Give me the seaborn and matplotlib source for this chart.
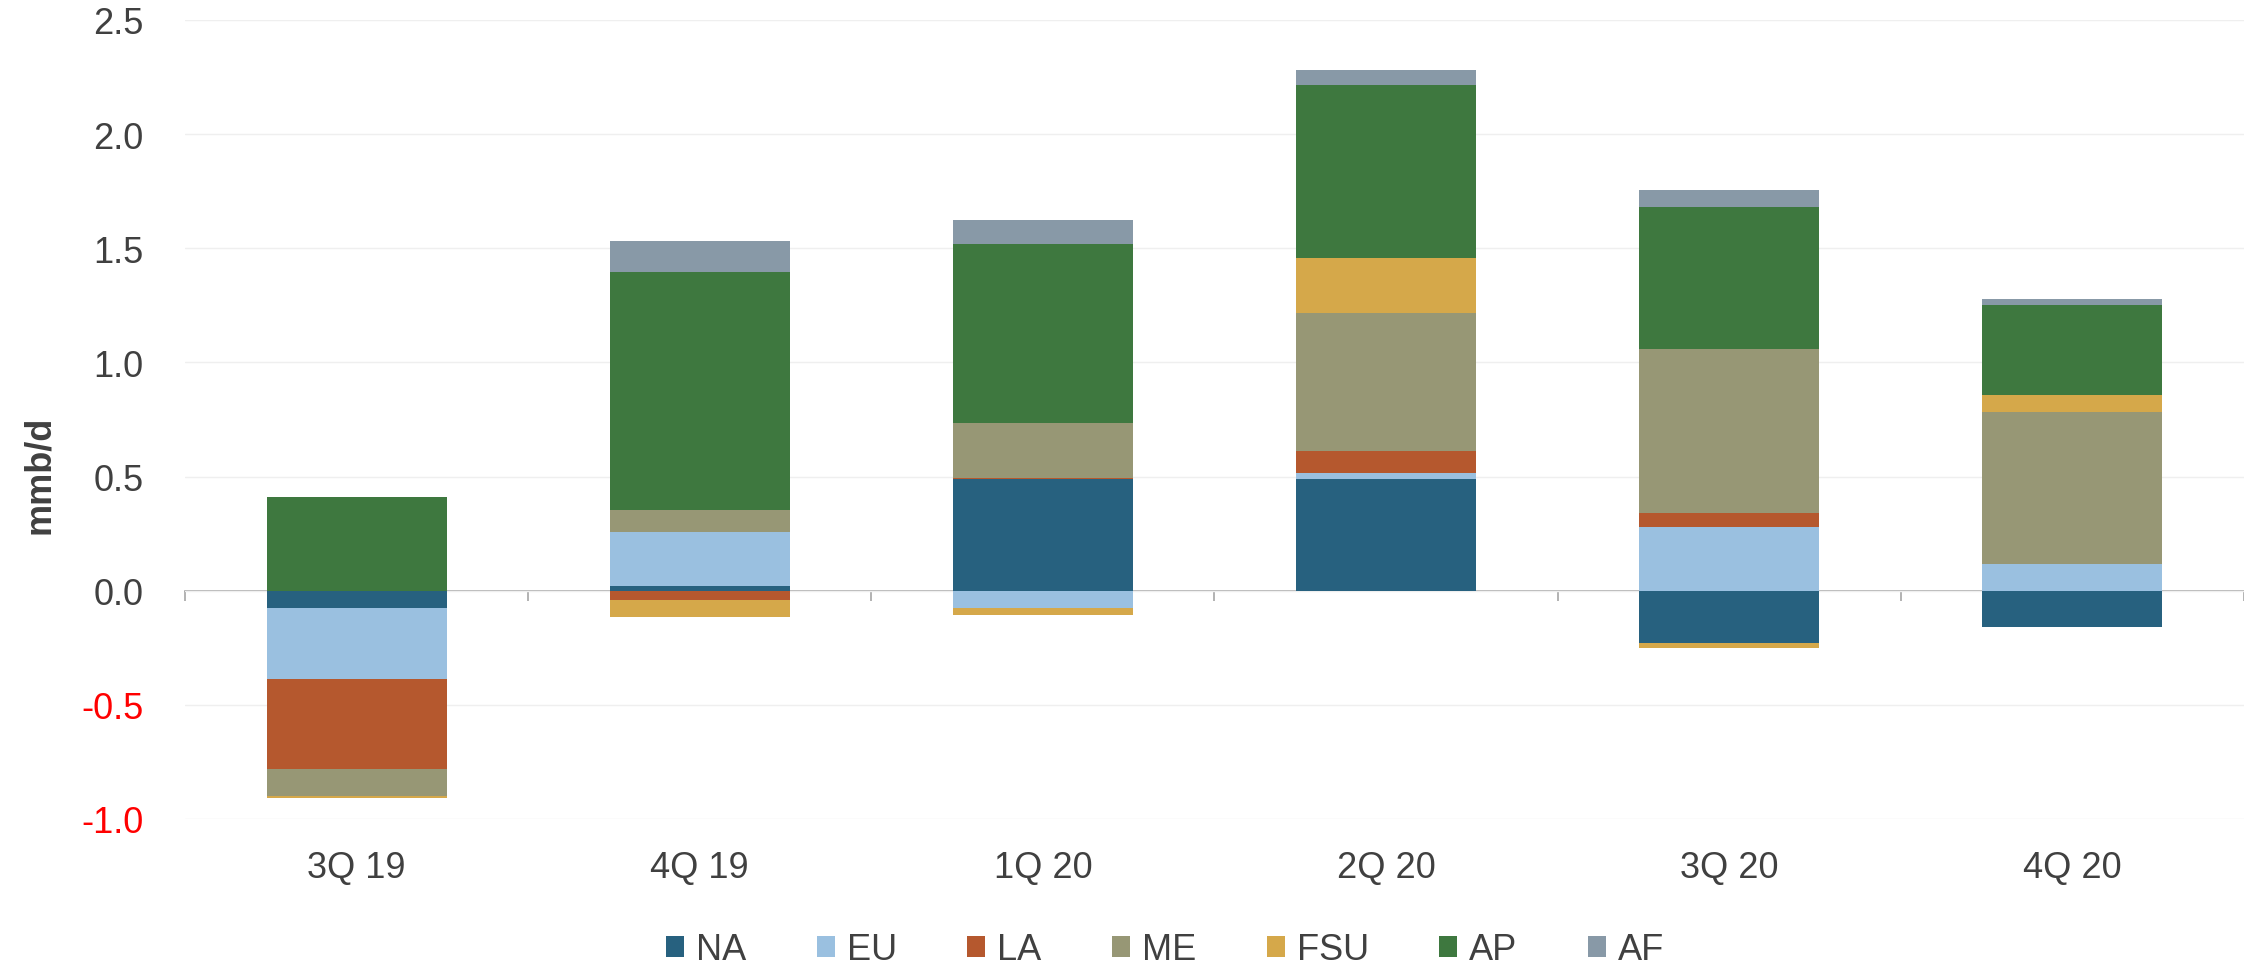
import numpy as np
import matplotlib
matplotlib.use("Agg")
import matplotlib.pyplot as plt
from matplotlib.patches import Patch
import seaborn as sns

# Quarterly change by region (mmb/d)
quarters = ["3Q 19", "4Q 19", "1Q 20", "2Q 20", "3Q 20", "4Q 20"]
na_vals = [-0.075, 0.020, 0.490, 0.490, -0.227, -0.158]
eu_vals = [-0.310, 0.237, -0.075, 0.024, 0.278, 0.115]
la_vals = [-0.395, -0.040, 0.005, 0.100, 0.063, 0.003]
me_vals = [-0.120, 0.095, 0.240, 0.603, 0.718, 0.665]
fsu_vals = [-0.010, -0.077, -0.032, 0.242, -0.026, 0.076]
ap_vals = [0.410, 1.042, 0.785, 0.755, 0.622, 0.394]
af_vals = [0.000, 0.137, 0.105, 0.069, 0.075, 0.026]

regions = ["NA", "EU", "LA", "ME", "FSU", "AP", "AF"]
series = [na_vals, eu_vals, la_vals, me_vals, fsu_vals, ap_vals, af_vals]
colors = ["#27617f", "#9ac0e0", "#b5582e", "#979775", "#d5a84a", "#3e783f", "#8899a7"]

y_ticks = [-1.0, -0.5, 0.0, 0.5, 1.0, 1.5, 2.0, 2.5]

sns.set_style("white")
plt.rcParams["font.family"] = ["Liberation Sans", "DejaVu Sans"]
text_color = "#404040"

fig = plt.figure(figsize=(22.44, 9.70), dpi=100)
ax = fig.add_axes([185 / 2244, 150 / 970, 2059 / 2244, 799 / 970])

# Stack positives upward and negatives downward, each in series order
pos_base = np.zeros(len(quarters))
neg_base = np.zeros(len(quarters))
for name, vals, col in zip(regions, series, colors):
    v = np.asarray(vals, dtype=float)
    bottom = np.where(v >= 0, pos_base, neg_base)
    sns.barplot(x=quarters, y=v, bottom=bottom, color=col, width=0.525,
                errorbar=None, saturation=1, linewidth=0, ax=ax)
    pos_base = pos_base + np.where(v >= 0, v, 0)
    neg_base = neg_base + np.where(v < 0, v, 0)

ax.set_xlim(-0.5, len(quarters) - 0.5)
ax.set_ylim(y_ticks[0], y_ticks[-1])
ax.set_yticks(y_ticks)
ax.set_yticklabels([f"{t:.1f}" for t in y_ticks])
for lab, t in zip(ax.get_yticklabels(), y_ticks):
    lab.set_color("#ff0000" if t < 0 else text_color)

ax.yaxis.grid(True, color="#efefef", linewidth=1.0)
ax.xaxis.grid(False)
ax.set_axisbelow(True)
for s in ax.spines.values():
    s.set_visible(False)

ax.tick_params(axis="y", length=0, labelsize=26, pad=30)
ax.tick_params(axis="x", length=0, labelsize=26, pad=22, labelcolor=text_color)
ax.set_xlabel("")
ax.set_ylabel("")

# Zero line with category-boundary ticks
zero_frac = (0 - y_ticks[0]) / (y_ticks[-1] - y_ticks[0])
sec = ax.secondary_xaxis(zero_frac)
sec.set_xticks(np.arange(-0.5, len(quarters), 1.0))
sec.tick_params(axis="x", length=7, width=1.2, color="#a6a6a6", labelbottom=False)
sec.spines["bottom"].set_color("#a6a6a6")
sec.spines["bottom"].set_linewidth(1.2)

fig.text(40 / 2244, 1 - 475 / 970, "mmb/d", rotation=90, ha="center", va="center",
         fontsize=26, fontweight="bold", color=text_color)

handles = [Patch(facecolor=c, edgecolor="none", label=r) for r, c in zip(regions, colors)]
fig.legend(handles=handles, loc="center", bbox_to_anchor=(1165 / 2244, 1 - 951 / 970),
           ncol=len(regions), frameon=False, fontsize=26, handlelength=0.5,
           handleheight=0.5, handletextpad=0.33, columnspacing=1.95,
           labelcolor=text_color)

fig.savefig("out.png", dpi=100)
